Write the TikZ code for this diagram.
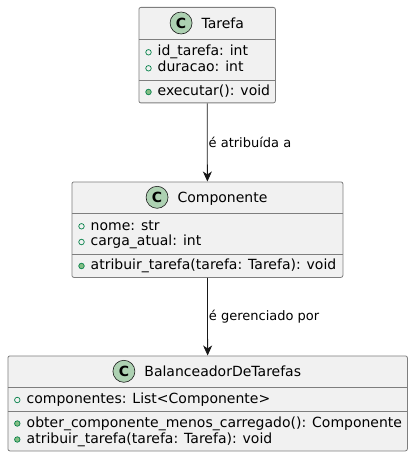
\documentclass[tikz,border=0pt]{standalone}
\usepackage{fontspec}
\setmainfont{DejaVu Sans}
\usetikzlibrary{positioning,arrows.meta}
\definecolor{umlfill}{HTML}{F1F1F1}
\definecolor{umlline}{HTML}{181818}
\definecolor{boxline}{HTML}{7E7E7E}
\definecolor{badgefill}{HTML}{ADD1B2}
\definecolor{fieldcol}{HTML}{038048}
\definecolor{methcol}{HTML}{84BE84}
\begin{document}
\begin{tikzpicture}[x=1pt,y=-1pt,
 cls/.style={draw=boxline,fill=umlfill,line width=.8pt,rounded corners=2pt,anchor=north west,inner sep=0pt},
 sepl/.style={draw=boxline,line width=.8pt},
 cname/.style={font=\fontsize{14}{16}\selectfont,inner sep=0pt,text height=10.2pt,text depth=0pt,anchor=base},
 badge/.style={circle,draw=umlline,fill=badgefill,line width=.6pt,minimum size=22pt,inner sep=0pt,font=\fontsize{14}{16}\selectfont\bfseries},
 mem/.style={anchor=base west,inner sep=0pt,font=\fontsize{14}{16}\selectfont},
 fld/.style={circle,draw=fieldcol,line width=.7pt,minimum size=5.5pt,inner sep=0pt},
 mth/.style={fld,fill=methcol},
 assoc/.style={draw=umlline,line width=.8pt,-{Stealth[length=10pt,width=9pt,inset=3pt]}},
 lbl/.style={font=\fontsize{13}{15}\selectfont,inner sep=1pt,right},
 ]
\useasboundingbox (0,0) rectangle (413,457);

% Tarefa
\node[cls,minimum width=136.5pt,minimum height=95.5pt] (tarefa) at (138.5,7) {};
\node[cname] (tname) at (222.75,28.1) {Tarefa};
\node[badge,left=9pt of tname] (tbadge) {C};
\draw[sepl] (tarefa.west |- 0,39) -- (tarefa.east |- 0,39);
\draw[sepl] (tarefa.west |- 0,80) -- (tarefa.east |- 0,80);
\node[fld] (tf1) at (148.5,52.3) {};
\node[mem] (tt1) at (157.5,56) {id\_tarefa: int};
\node[fld] (tf2) at (148.5,68.3) {};
\node[mem] (tt2) at (157.5,72) {duracao: int};
\node[mth] (tm1) at (148.5,92) {};
\node[mem] (tt3) at (157.5,95.7) {executar(): void};

% Componente
\node[cls,minimum width=271pt,minimum height=95.5pt] (comp) at (71.5,181.5) {};
\node[cname] (cname) at (222.5,202.4) {Componente};
\node[badge,left=9pt of cname] (cbadge) {C};
\draw[sepl] (comp.west |- 0,213) -- (comp.east |- 0,213);
\draw[sepl] (comp.west |- 0,254) -- (comp.east |- 0,254);
\node[fld] (cf1) at (81.5,226.3) {};
\node[mem] (ct1) at (90.5,230) {nome: str};
\node[fld] (cf2) at (81.5,242) {};
\node[mem] (ct2) at (90.5,245.7) {carga\_atual: int};
\node[mth] (cm1) at (81.5,266) {};
\node[mem] (ct3) at (90.5,269.7) {atribuir\_tarefa(tarefa: Tarefa): void};

% BalanceadorDeTarefas
\node[cls,minimum width=399.5pt,minimum height=95pt] (bal) at (7.5,355.5) {};
\node[cname] (bname) at (222.75,376.4) {BalanceadorDeTarefas};
\node[badge,left=9pt of bname] (bbadge) {C};
\draw[sepl] (bal.west |- 0,387) -- (bal.east |- 0,387);
\draw[sepl] (bal.west |- 0,411.5) -- (bal.east |- 0,411.5);
\node[fld] (bf1) at (17.3,400) {};
\node[mem] (bt1) at (26.5,403.7) {componentes: List\textless Componente\textgreater};
\node[mth] (bm1) at (17.3,423.5) {};
\node[mem] (bt2) at (26.5,427.2) {obter\_componente\_menos\_carregado(): Componente};
\node[mth] (bm2) at (17.3,439.5) {};
\node[mem] (bt3) at (26.5,443.2) {atribuir\_tarefa(tarefa: Tarefa): void};

% Relacoes
\draw[assoc] (tarefa.south) -- (comp.north) node[lbl,midway] (l1) {é atribuída a};
\draw[assoc] (comp.south) -- (bal.north) node[lbl,midway] (l2) {é gerenciado por};
\end{tikzpicture}
\end{document}
